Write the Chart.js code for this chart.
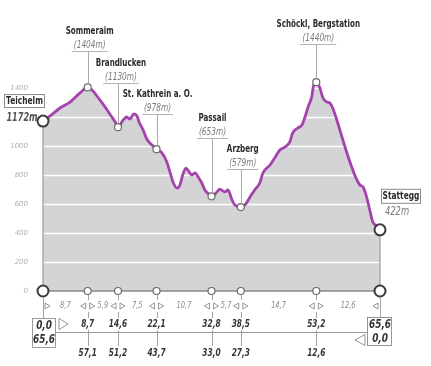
<!DOCTYPE html>
<html>
<head>
<meta charset="utf-8">
<script src="https://cdn.jsdelivr.net/npm/chart.js@4/dist/chart.umd.min.js"></script>
<style>
  html, body { margin: 0; padding: 0; background: #fff; }
  canvas { display: block; }
</style>
</head>
<body>
<canvas id="profil" width="431" height="366"></canvas>
<script>
// Höhenprofil: Distanz (km) und Höhe (m)
const profilKm = [0, 1.4, 3.3, 5.25, 7.2, 8.7, 11.1, 13.4, 14.4, 14.6, 15.6, 16.3, 16.9, 17.7, 18.3, 18.7, 19.5, 20.2, 21.2, 22.1,
  23.15, 24.1, 24.7, 25.3, 26.1, 26.65, 27.2, 27.8, 28.2, 29.0, 29.6, 30.2, 30.9, 31.5, 32.5, 32.8,
  33.85, 34.4, 35.4, 36.0, 36.8, 37.35, 38.5, 39.3, 40.3, 41.2, 42.2, 42.8, 44.2, 45.1, 46.1, 47.1, 48.05,
  48.6, 49.6, 50.4, 51.0, 51.6, 52.3, 52.7, 53.2, 53.9, 54.5, 55.25, 55.8, 56.4, 57.2, 58.2, 59.1, 60.1,
  61.1, 61.7, 62.3, 63.0, 63.6, 64.2, 65.0, 65.6];
const profilHoehe = [1172, 1207, 1262, 1303, 1366, 1404, 1317, 1200, 1145, 1130, 1179, 1200, 1186, 1221, 1207, 1166, 1110, 1048, 1007, 978,
  952, 890, 821, 752, 710, 731, 800, 848, 834, 800, 814, 786, 745, 697, 662, 653,
  683, 703, 683, 697, 628, 593, 579, 593, 648, 697, 745, 814, 869, 917, 972, 993, 1028,
  1090, 1124, 1145, 1200, 1269, 1338, 1421, 1440, 1400, 1331, 1303, 1297, 1262, 1179, 1062, 959, 855,
  766, 731, 717, 648, 559, 476, 448, 422];

// Stationen
const stationNamen = ['Sommeraim', 'Brandlucken', 'St. Kathrein a. O.', 'Passail', 'Arzberg', 'Schöckl, Bergstation'];
const stationKm = [8.7, 14.6, 22.1, 32.8, 38.5, 53.2];
const stationHoehe = [1404, 1130, 978, 653, 579, 1440];
const startName = 'Teichelm', startHoehe = 1172;
const zielName = 'Stattegg', zielHoehe = 422;
const gesamtKm = 65.6;

// Tabelle unten
const etappenKm = [8.7, 5.9, 7.5, 10.7, 5.7, 14.7, 12.6];
const bisherKm = [8.7, 14.6, 22.1, 32.8, 38.5, 53.2];
const restKm = [57.1, 51.2, 43.7, 33.0, 27.3, 12.6];

const yTicks = [0, 200, 400, 600, 800, 1000, 1200, 1400];

const SCHRIFT = '"DejaVu Sans", sans-serif';
const SCHMAL = 0.74; // schmale Schrift nachbilden
const komma = v => v.toFixed(1).replace('.', ',');

function text(c, s, x, y, font, farbe, sx) {
    c.save();
    c.font = font;
    c.fillStyle = farbe;
    c.textAlign = 'center';
    c.textBaseline = 'middle';
    c.translate(x, y);
    c.scale(sx || SCHMAL, 1);
    c.fillText(s, 0, 0);
    c.restore();
}

function textBreite(c, s, font) {
    c.font = font;
    return c.measureText(s).width * SCHMAL;
}

function linie(c, x1, y1, x2, y2, farbe, breite) {
    c.beginPath();
    c.moveTo(x1, y1);
    c.lineTo(x2, y2);
    c.strokeStyle = farbe;
    c.lineWidth = breite || 1;
    c.stroke();
}

function dreieck(c, x, y, w, h, rechts) {
    c.beginPath();
    if (rechts) {
        c.moveTo(x, y - h / 2); c.lineTo(x + w, y); c.lineTo(x, y + h / 2);
    } else {
        c.moveTo(x + w, y - h / 2); c.lineTo(x, y); c.lineTo(x + w, y + h / 2);
    }
    c.closePath();
    c.strokeStyle = '#8a8a8a';
    c.lineWidth = 0.9;
    c.stroke();
}

// Gitterlinien weiss über der Fläche, Achse unten
const gitterPlugin = {
    id: 'gitter',
    afterDatasetDraw(chart, args) {
        if (args.index !== 0) return;
        const c = chart.ctx, a = chart.chartArea;
        const xs = chart.scales.x, ys = chart.scales.y;
        c.save();
        yTicks.forEach(v => {
            if (v === 0) return;
            const y = Math.round(ys.getPixelForValue(v)) + 0.5;
            linie(c, a.left, y, a.right, y, '#ffffff', 1.3);
        });
        const x0 = xs.getPixelForValue(0), x1 = xs.getPixelForValue(gesamtKm), yb = ys.getPixelForValue(0);
        linie(c, x0, ys.getPixelForValue(startHoehe), x0, yb, '#9a9a9a', 1.2);
        linie(c, x1, ys.getPixelForValue(zielHoehe), x1, yb, '#9a9a9a', 1.2);
        linie(c, x0, yb, x1, yb, '#8a8a8a', 1.5);
        c.restore();
    }
};

// Beschriftungen
const labelY = [31, 63, 94, 118, 149, 24];
const labelDx = [2, 3, 1, 1, 2, 2];
const NAMEN_SCHMAL = 0.65;

const beschriftungPlugin = {
    id: 'beschriftung',
    afterDraw(chart) {
        const c = chart.ctx;
        const xs = chart.scales.x, ys = chart.scales.y;
        c.save();

        // Stationen oben
        stationNamen.forEach((name, i) => {
            const px = xs.getPixelForValue(stationKm[i]);
            const py = ys.getPixelForValue(stationHoehe[i]);
            const lx = px + labelDx[i];
            text(c, name, lx, labelY[i], 'bold 11px ' + SCHRIFT, '#2a2a2a', NAMEN_SCHMAL);
            const wert = '(' + stationHoehe[i] + 'm)';
            const wf = 'italic 10px ' + SCHRIFT;
            text(c, wert, lx, labelY[i] + 14, wf, '#7a7a7a');
            const w = textBreite(c, wert, wf);
            const uy = labelY[i] + 20.5;
            linie(c, lx - w / 2 - 2, uy, lx + w / 2 + 2, uy, '#a0a0a0', 0.8);
            linie(c, Math.round(px) + 0.5, uy, Math.round(px) + 0.5, py - 4, '#a0a0a0', 0.9);
        });

        // Start und Ziel
        const sx = xs.getPixelForValue(0), sy = ys.getPixelForValue(startHoehe);
        c.fillStyle = '#fff';
        c.fillRect(4.5, sy - 26.5, 40, 13);
        c.strokeStyle = '#8a8a8a'; c.lineWidth = 1;
        c.strokeRect(4.5, sy - 26.5, 40, 13);
        text(c, startName, 24.5, sy - 19.5, 'bold 11px ' + SCHRIFT, '#2a2a2a', 0.68);
        text(c, startHoehe + 'm', sx - 21, sy - 3, 'italic bold 12px ' + SCHRIFT, '#555', 0.68);

        const zx = xs.getPixelForValue(gesamtKm), zy = ys.getPixelForValue(zielHoehe);
        c.fillStyle = '#fff';
        c.fillRect(zx + 1.5, zy - 40.5, 39, 14);
        c.strokeRect(zx + 1.5, zy - 40.5, 39, 14);
        text(c, zielName, zx + 21, zy - 33.5, 'bold 11px ' + SCHRIFT, '#2a2a2a', 0.68);
        text(c, zielHoehe + 'm', zx + 17, zy - 18, 'italic 12px ' + SCHRIFT, '#777', 0.7);

        // Tabelle unten
        const yb = ys.getPixelForValue(0);
        const zeileEtappe = yb + 15, zeileBisher = yb + 33, trenn = yb + 41.5, zeileRest = yb + 62;
        const punkte = [0].concat(stationKm, [gesamtKm]).map(v => xs.getPixelForValue(v));

        // senkrechte Linien
        stationKm.forEach(v => {
            const px = Math.round(xs.getPixelForValue(v)) + 0.5;
            linie(c, px, yb + 4, px, yb + 9, '#9a9a9a', 0.9);
            linie(c, px, yb + 21, px, yb + 27, '#9a9a9a', 0.9);
            linie(c, px, yb + 39, px, yb + 55, '#9a9a9a', 0.9);
        });
        linie(c, Math.round(sx) + 0.5, yb + 6, Math.round(sx) + 0.5, yb + 27, '#9a9a9a', 0.9);
        linie(c, Math.round(zx) + 0.5, yb + 6, Math.round(zx) + 0.5, yb + 26, '#9a9a9a', 0.9);

        // Etappen
        etappenKm.forEach((v, i) => {
            const a = punkte[i], b = punkte[i + 1];
            dreieck(c, a + 2, zeileEtappe, 5, 6, true);
            dreieck(c, b - 7, zeileEtappe, 5, 6, false);
            text(c, komma(v), (a + b) / 2, zeileEtappe, 'italic 9px ' + SCHRIFT, '#8a8a8a');
        });

        // Trennlinie
        linie(c, sx + 12, trenn, zx - 12, trenn, '#9a9a9a', 1);

        bisherKm.forEach((v, i) => {
            const px = xs.getPixelForValue(stationKm[i]);
            text(c, komma(v), px, zeileBisher, 'italic bold 10px ' + SCHRIFT, '#333');
            text(c, komma(restKm[i]), px, zeileRest, 'italic bold 10px ' + SCHRIFT, '#333');
        });

        // Kästchen links und rechts
        c.fillStyle = '#fff';
        c.fillRect(sx - 10.5, yb + 27.5, 23, 29);
        c.strokeStyle = '#9a9a9a'; c.lineWidth = 1;
        c.strokeRect(sx - 10.5, yb + 27.5, 23, 29);
        text(c, komma(0), sx + 1, yb + 35, 'italic bold 12px ' + SCHRIFT, '#333');
        text(c, komma(gesamtKm), sx + 1, yb + 49, 'italic bold 12px ' + SCHRIFT, '#333');
        dreieck(c, sx + 16, yb + 33, 9, 11, true);

        c.fillStyle = '#fff';
        c.fillRect(zx - 12.5, yb + 26.5, 24, 28);
        c.strokeRect(zx - 12.5, yb + 26.5, 24, 28);
        text(c, komma(gesamtKm), zx, yb + 34, 'italic bold 12px ' + SCHRIFT, '#333');
        text(c, komma(0), zx, yb + 48, 'italic bold 12px ' + SCHRIFT, '#333');
        dreieck(c, zx - 25, yb + 49, 10, 11, false);

        c.restore();
    }
};

const profil = profilKm.map((km, i) => ({ x: km, y: profilHoehe[i] }));
const stationen = stationKm.map((km, i) => ({ x: km, y: stationHoehe[i] }));
const achsenPunkte = stationKm.map(km => ({ x: km, y: 0 }));
const endPunkte = [
    { x: 0, y: startHoehe }, { x: gesamtKm, y: zielHoehe },
    { x: 0, y: 0 }, { x: gesamtKm, y: 0 }
];

const ctx = document.getElementById('profil').getContext('2d');
const chart = new Chart(ctx, {
    type: 'line',
    data: {
        datasets: [
            {
                data: profil, fill: 'origin', backgroundColor: '#d4d4d6',
                borderWidth: 0, pointRadius: 0, cubicInterpolationMode: 'monotone', order: 5
            },
            {
                data: profil, fill: false, borderColor: '#a443ad', borderWidth: 2.8,
                pointRadius: 0, cubicInterpolationMode: 'monotone', order: 4
            },
            {
                type: 'scatter', data: stationen, pointRadius: 3.5, pointBackgroundColor: '#fff',
                pointBorderColor: '#6a6a6a', pointBorderWidth: 1.2, clip: false, order: 2
            },
            {
                type: 'scatter', data: achsenPunkte, pointRadius: 3.5, pointBackgroundColor: '#fff',
                pointBorderColor: '#6a6a6a', pointBorderWidth: 1.2, clip: false, order: 2
            },
            {
                type: 'scatter', data: endPunkte, pointRadius: 5.5, pointBackgroundColor: '#fff',
                pointBorderColor: '#3a3a3a', pointBorderWidth: 2, clip: false, order: 1
            }
        ]
    },
    options: {
        responsive: false,
        animation: false,
        events: [],
        layout: { padding: { left: 0, right: 51, top: 73.5, bottom: 75 } },
        plugins: { legend: { display: false }, tooltip: { enabled: false } },
        scales: {
            x: { type: 'linear', min: 0, max: gesamtKm, display: false },
            y: {
                min: 0, max: 1500,
                afterFit(s) { s.width = 43; },
                afterBuildTicks(s) { s.ticks = yTicks.map(v => ({ value: v })); },
                grid: { display: false },
                border: { display: false },
                ticks: {
                    padding: 7,
                    color: '#b0b0b0',
                    font: { size: 7, style: 'italic', family: SCHRIFT },
                    callback: v => v === 1200 ? '' : v
                }
            }
        }
    },
    plugins: [gitterPlugin, beschriftungPlugin]
});
</script>
</body>
</html>
